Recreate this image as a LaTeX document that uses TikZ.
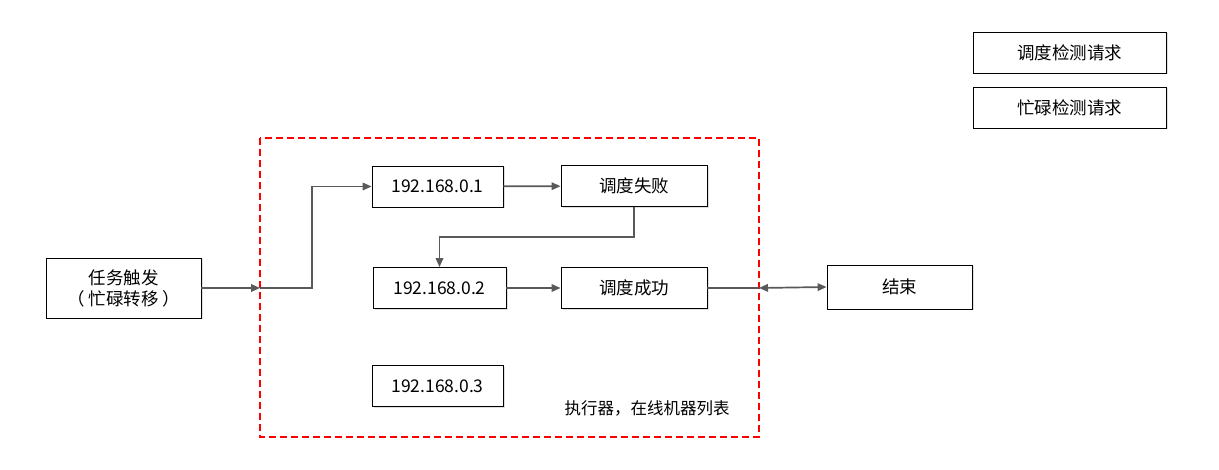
\documentclass[tikz,border=0pt]{standalone}
\usepackage{fontspec}
\setmainfont{Noto Sans CJK SC}
\usetikzlibrary{positioning,arrows.meta,shadows}

\tikzset{
  box/.style={draw=black, line width=0.8pt, fill=white, minimum height=41pt,
    inner sep=0pt, font=\fontsize{17.5}{21}\selectfont,
    drop shadow={opacity=0.25, shadow xshift=1.5pt, shadow yshift=-1.5pt}},
  tip/.tip={Triangle[length=9pt,width=7.5pt]},
  link/.style={draw=black!65, line width=1.7pt, -tip},
}

\begin{document}
\begin{tikzpicture}[x=1pt,y=-1pt]
  \useasboundingbox (0,0) rectangle (1219,470);
  % Executor area
  \draw[red, line width=1.5pt, dash pattern=on 7pt off 4pt] (260,138) rectangle (759,437);
  \coordinate (inL) at (260,288);
  \coordinate (inR) at (759,288);
  \node[font=\fontsize{16.5}{19}\selectfont] (execlabel) at (647,408) {执行器，在线机器列表};
  % Boxes
  \node[box, minimum width=155pt, minimum height=60pt, align=center] (trigger) at (123.5,288)
    {任务触发\\（ 忙碌转移 ）};
  \node[box, minimum width=131pt] (ipA) at (437.5,186.5) {192.168.0.1};
  \node[box, minimum width=146pt] (fail) at (634,186) {调度失败};
  \node[box, minimum width=133pt] (ipB) at (439.5,288) {192.168.0.2};
  \node[box, minimum width=146pt] (ok) at (634,288) {调度成功};
  \node[box, minimum width=131pt] (ipC) at (437.5,386) {192.168.0.3};
  \node[box, minimum width=145pt, minimum height=44pt] (finish) at (899.5,287) {结束};
  % Legend
  \node[box, minimum width=193pt] (schedreq) at (1069.5,52.5) {调度检测请求};
  \node[box, minimum width=193pt] (busyreq) at (1069.5,107.5) {忙碌检测请求};
  % Connectors
  \draw[link] (trigger.east) -- (inL);
  \draw[link] (inL) -- (312,288) |- (ipA.west);
  \draw[link] (ipA) -- (fail);
  \draw[link] (fail.south) -- ++(0,30) -| (ipB.north);
  \draw[link] (ipB) -- (ok);
  \draw[draw=black!65, line width=1.7pt] (ok.east) -- (inR);
  \draw[link, tip-tip] (inR) -- (finish.west);
\end{tikzpicture}
\end{document}
